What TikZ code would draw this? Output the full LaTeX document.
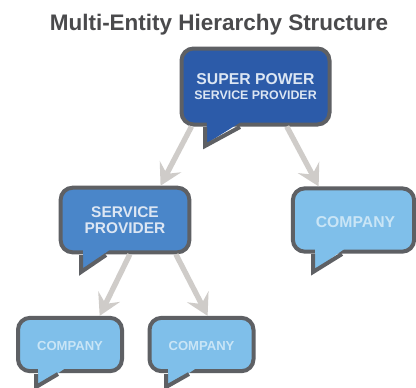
\documentclass[tikz,border=0pt]{standalone}
\usepackage{fontspec}
\setmainfont{Liberation Sans}
\usetikzlibrary{arrows.meta}
\definecolor{outl}{HTML}{5E6064}
\definecolor{superblue}{HTML}{2C5BA9}
\definecolor{serviceblue}{HTML}{4A86C9}
\definecolor{companyblue}{HTML}{7FBFEA}
\definecolor{linkgray}{HTML}{CFCCC9}
\definecolor{titlegray}{HTML}{4A4A4C}
\definecolor{lighttext}{HTML}{C9E5F6}
\definecolor{supertext}{HTML}{DCE6F3}
\tikzset{
  bubble/.style={draw=outl,line width=3pt,rounded corners=9pt,inner sep=0pt,align=center,font=\bfseries},
  tail/.style={draw=outl,line width=3pt,line join=miter,miter limit=10},
  link/.style={draw=linkgray,line width=4pt,-{Stealth[length=16pt,width=18pt,inset=6pt]}},
}
\begin{document}
\begin{tikzpicture}[x=0.75pt,y=-0.75pt]
\useasboundingbox (0,0) rectangle (416,387);
\fill[white] (0,0) rectangle (416,387);
\node[font=\bfseries\fontsize{16.85pt}{19pt}\selectfont,text=titlegray,inner sep=0pt] (title) at (219,25) {Multi-Entity Hierarchy Structure};
% bubble bodies
\node[bubble,fill=superblue,minimum width=111pt,minimum height=57pt,text=supertext] (sp) at (255.5,86.5)
  {\fontsize{11.8pt}{13pt}\selectfont SUPER POWER\\[-1pt]\fontsize{9.3pt}{10pt}\selectfont SERVICE PROVIDER};
\node[bubble,fill=serviceblue,minimum width=96.5pt,minimum height=48.5pt,text=supertext] (svc) at (125,220)
  {\fontsize{11.6pt}{13.4pt}\selectfont SERVICE\\\fontsize{11.6pt}{13.4pt}\selectfont PROVIDER};
\node[bubble,fill=companyblue,minimum width=91pt,minimum height=47.5pt,text=lighttext,text height=11pt,text depth=0pt] (c3) at (353.5,220)
  {\hspace*{3pt}\fontsize{11.8pt}{12pt}\selectfont COMPANY};
\node[bubble,fill=companyblue,minimum width=78pt,minimum height=40pt,text=lighttext,text height=9.5pt,text depth=0pt] (c1) at (70,344.5)
  {\fontsize{9.8pt}{10pt}\selectfont COMPANY};
\node[bubble,fill=companyblue,minimum width=78pt,minimum height=40pt,text=lighttext,text height=9.5pt,text depth=0pt] (c2) at (201.5,344.5)
  {\fontsize{9.8pt}{10pt}\selectfont COMPANY};
% tails
\fill[superblue] (207,120) -- (206,144) -- (244,120) -- cycle;
\draw[tail] (205,127) -- (205,146) -- (240,127);
\fill[serviceblue] (83,248) -- (83,270) -- (112,248) -- cycle;
\draw[tail] (81,255) -- (81,272) -- (106,255);
\fill[companyblue] (315,247) -- (315,270) -- (347,247) -- cycle;
\draw[tail] (313,254) -- (313,272) -- (342,254);
\fill[companyblue] (38,367) -- (38,387) -- (67,367) -- cycle;
\draw[tail] (36,374) -- (36,387) -- (58,374);
\fill[companyblue] (168,367) -- (168,387) -- (198,367) -- cycle;
\draw[tail] (166,374) -- (166,387) -- (189,374);
% connectors
\draw[link] (sp.212.5) -- (svc.44);
\draw[link] (sp.-52) -- (c3.136);
\draw[link] (svc.-82) -- (c1.44.5);
\draw[link] (svc.-34) -- (c2.78);
\end{tikzpicture}
\end{document}
